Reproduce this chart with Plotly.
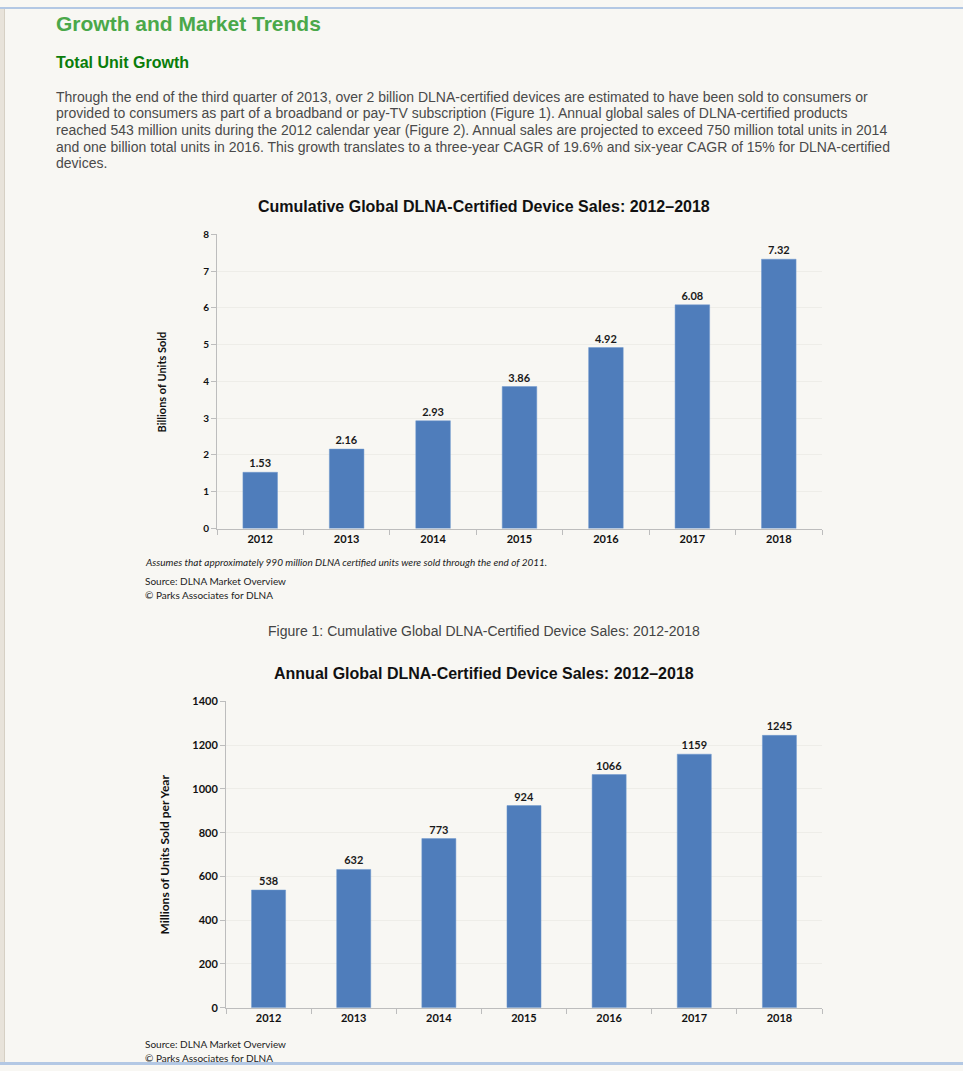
import plotly.graph_objects as go

W, H = 963, 1071

years = ["2012", "2013", "2014", "2015", "2016", "2017", "2018"]
cumulative_billions = [1.53, 2.16, 2.93, 3.86, 4.92, 6.08, 7.32]
annual_millions = [538, 632, 773, 924, 1066, 1159, 1245]
cum_labels = ["1.53", "2.16", "2.93", "3.86", "4.92", "6.08", "7.32"]
ann_labels = [str(v) for v in annual_millions]

BAR = "#4f7dbb"
BG = "#f8f7f3"
CAL = "Lato, 'Open Sans', sans-serif"
ARIAL = "Arial, 'Liberation Sans', sans-serif"


def px(x):
    return x / W


def py(y):
    return 1 - y / H


fig = go.Figure()
fig.add_trace(go.Bar(
    x=years, y=cumulative_billions, text=["<b>" + s + "</b>" for s in cum_labels],
    textposition="outside",
    textfont=dict(family=CAL, size=11, color="#1a1a1a"),
    marker=dict(color=BAR, line=dict(color="#6f98cf", width=0.5)),
    width=0.4, cliponaxis=False, xaxis="x", yaxis="y", showlegend=False,
))
fig.add_trace(go.Bar(
    x=years, y=annual_millions, text=["<b>" + s + "</b>" for s in ann_labels],
    textposition="outside",
    textfont=dict(family=CAL, size=11, color="#1a1a1a"),
    marker=dict(color=BAR, line=dict(color="#6f98cf", width=0.5)),
    width=0.4, cliponaxis=False, xaxis="x2", yaxis="y2", showlegend=False,
))

axis_common = dict(
    showline=True, linecolor="#bdbdbd", linewidth=1,
    ticks="outside", tickcolor="#bdbdbd", ticklen=5,
)

fig.update_layout(
    width=W, height=H, margin=dict(l=0, r=0, t=0, b=0),
    paper_bgcolor=BG, plot_bgcolor=BG,
    xaxis=dict(domain=[px(217), px(822)], anchor="y", type="category",
               tickson="boundaries", showgrid=False,
               tickvals=years, ticktext=["<b>" + y + "</b>" for y in years],
               tickfont=dict(family=CAL, size=11, color="#111"),
               **axis_common),
    yaxis=dict(domain=[py(528), py(230)], anchor="x", range=[0, 8],
               tickvals=list(range(0, 9)), ticktext=["<b>%d</b>" % v for v in range(0, 9)],
               showgrid=True, gridcolor="#eeede8", zeroline=False,
               tickfont=dict(family=CAL, size=10, color="#111"),
               **axis_common),
    xaxis2=dict(domain=[px(226), px(822)], anchor="y2", type="category",
                tickson="boundaries", showgrid=False,
                tickvals=years, ticktext=["<b>" + y + "</b>" for y in years],
                tickfont=dict(family=CAL, size=11, color="#111"),
                **axis_common),
    yaxis2=dict(domain=[py(1013), py(703)], anchor="x2", range=[0, 1400],
                tickvals=list(range(0, 1401, 200)),
                ticktext=["<b>%d</b>" % v for v in range(0, 1401, 200)],
                showgrid=True, gridcolor="#eeede8", zeroline=False,
                tickfont=dict(family=CAL, size=11, color="#111"),
                **axis_common),
)

anns = []


def txt(x, y, s, size, color="#444", family=ARIAL, xanchor="left", bold=False, italic=False, angle=0):
    if bold:
        s = "<b>" + s + "</b>"
    if italic:
        s = "<i>" + s + "</i>"
    anns.append(dict(x=px(x), y=py(y), xref="paper", yref="paper", text=s,
                     showarrow=False, xanchor=xanchor, yanchor="middle",
                     font=dict(size=size, color=color, family=family), textangle=angle))


txt(54, 17, "Growth and Market Trends", 21, color="#4aa84a", bold=True)
txt(54, 56, "Total Unit Growth", 16, color="#0a7d0a", bold=True)
para = [
    "Through the end of the third quarter of 2013, over 2 billion DLNA-certified devices are estimated to have been sold to consumers or",
    "provided to consumers as part of a broadband or pay-TV subscription (Figure 1). Annual global sales of DLNA-certified products",
    "reached 543 million units during the 2012 calendar year (Figure 2). Annual sales are projected to exceed 750 million total units in 2014",
    "and one billion total units in 2016. This growth translates to a three-year CAGR of 19.6% and six-year CAGR of 15% for DLNA-certified",
    "devices.",
]
for i, line in enumerate(para):
    txt(54, 91 + i * 16.8, line, 14, color="#4a4a4a")

txt(484, 202, "Cumulative Global DLNA-Certified Device Sales: 2012–2018", 16, color="#111", xanchor="center", bold=True)
txt(161, 380, "Billions of Units Sold", 11, color="#111", family=CAL, xanchor="center", bold=True, angle=-90)
txt(143, 562, "Assumes that approximately 990 million DLNA certified units were sold through the end of 2011.", 10, color="#222", family=CAL, italic=True)
txt(143, 581, "Source: DLNA Market Overview", 10, color="#222", family=CAL)
txt(143, 595, "© Parks Associates for DLNA", 10, color="#222", family=CAL)
txt(484, 632, "Figure 1: Cumulative Global DLNA-Certified Device Sales: 2012-2018", 14, color="#444", xanchor="center")

txt(484, 675, "Annual Global DLNA-Certified Device Sales: 2012–2018", 16, color="#111", xanchor="center", bold=True)
txt(165, 858, "Millions of Units Sold per Year", 12, color="#111", family=CAL, xanchor="center", bold=True, angle=-90)
txt(143, 1050, "Source: DLNA Market Overview", 10, color="#222", family=CAL)
txt(143, 1064, "© Parks Associates for DLNA", 10, color="#222", family=CAL)

fig.update_layout(annotations=anns)

shapes = [
    dict(type="rect", xref="paper", yref="paper", x0=0, x1=px(4), y0=0, y1=1,
         fillcolor="#e8e3da", line=dict(width=0), layer="below"),
    dict(type="line", xref="paper", yref="paper", x0=px(4.5), x1=px(4.5), y0=0, y1=1,
         line=dict(color="#d6d0c4", width=1)),
    dict(type="rect", xref="paper", yref="paper", x0=0, x1=1, y0=py(2), y1=1,
         fillcolor="#b3c8e4", line=dict(width=0)),
    dict(type="rect", xref="paper", yref="paper", x0=0, x1=1, y0=0, y1=py(1068),
         fillcolor="#b3c8e4", line=dict(width=0)),
]
fig.update_layout(shapes=shapes)

post = (
    "document.documentElement.style.margin='0';"
    "document.body.style.margin='0';"
)

fig.write_html("out.html", config={"displayModeBar": False}, post_script=post)
